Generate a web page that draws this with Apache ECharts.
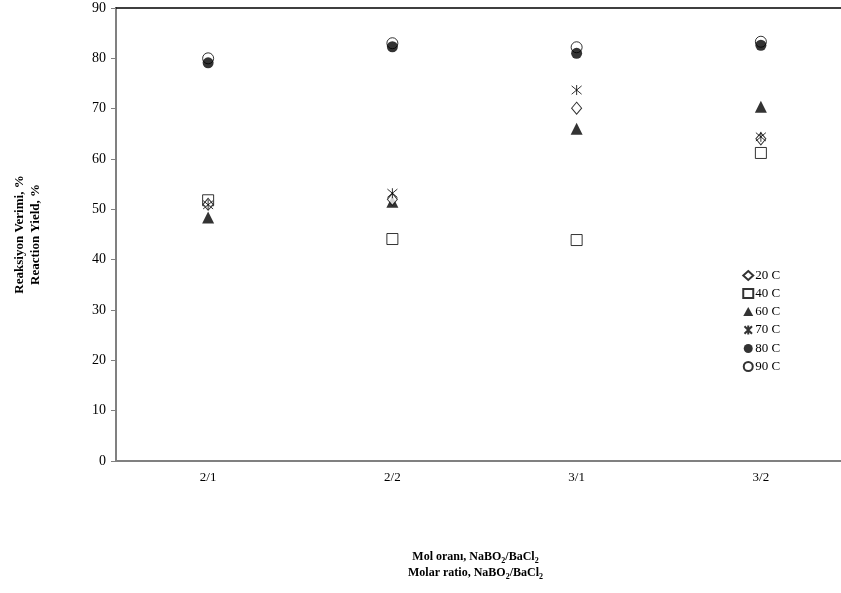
<!DOCTYPE html>
<html><head><meta charset="utf-8">
<script src="https://cdn.jsdelivr.net/npm/echarts@6/dist/echarts.min.js"></script>
<style>html,body{margin:0;padding:0;background:#fff}#c{width:841px;height:593px}</style>
</head><body><div id="c"></div>
<script>
const categories = ['2/1', '2/2', '3/1', '3/2'];
const seriesNames = ['20 C', '40 C', '60 C', '70 C', '80 C', '90 C'];
const s20 = [51, 52, 70.1, 64];
const s40 = [51.8, 44.1, 43.9, 61.2];
const s60 = [48.4, 51.5, 66, 70.4];
const s70 = [50.9, 53.2, 73.7, 64.4];
const s80 = [79.1, 82.3, 81, 82.6];
const s90 = [80, 83, 82.2, 83.3];
const yTicks = [0, 10, 20, 30, 40, 50, 60, 70, 80, 90];

const F = 'Liberation Serif, Times New Roman, serif';
const star = 'path://M0,0L10,10M10,0L0,10M5,-1L5,11';
const hollow = {color: '#fff', borderColor: '#000', borderWidth: 1};
const solid = {color: '#000', borderColor: '#000', borderWidth: 0};
const defs = [
  {d: s20, sym: 'diamond', size: [10, 12], st: hollow},
  {d: s40, sym: 'rect', size: 11, st: hollow},
  {d: s60, sym: 'triangle', size: 12, st: solid},
  {d: s70, sym: star, size: 10, st: {color: 'none', borderColor: '#000', borderWidth: 1}},
  {d: s80, sym: 'circle', size: 11, st: solid},
  {d: s90, sym: 'circle', size: 11, st: hollow}
];
const order = [5, 4, 1, 2, 0, 3];
const series = order.map(i => ({
  name: seriesNames[i], type: 'scatter', data: defs[i].d,
  symbol: defs[i].sym, symbolSize: defs[i].size,
  itemStyle: Object.assign({}, defs[i].st), emphasis: {disabled: true}
}));

const chart = echarts.init(document.getElementById('c'), null, {renderer: 'canvas'});
chart.setOption({
  animation: false,
  backgroundColor: '#fff',
  grid: {left: 116, top: 8, width: 737, height: 453, containLabel: false, outerBoundsMode: 'none'},
  legend: {
    orient: 'vertical', left: 737, top: 264, itemGap: 5, itemWidth: 10, itemHeight: 9,
    data: seriesNames,
    textStyle: {fontFamily: F, fontSize: 13, color: '#000', padding: [0, 0, 0, -3]}
  },
  xAxis: [{
    type: 'category', data: categories, boundaryGap: true,
    axisLine: {lineStyle: {color: '#808080', width: 2}},
    axisTick: {alignWithLabel: true, length: 4, lineStyle: {color: '#808080'}},
    axisLabel: {fontFamily: F, fontSize: 13, color: '#000', margin: 10},
    name: '{b|Mol oranı, NaBO}{s|2}{b|/BaCl}{s|2}\n{b|Molar ratio, NaBO}{s|2}{b|/BaCl}{s|2}',
    nameLocation: 'middle', nameGap: 88,
    nameTextStyle: {
      padding: [0, 18, 0, 0],
      rich: {
        b: {fontFamily: F, fontSize: 12, fontWeight: 'bold', color: '#000', lineHeight: 16},
        s: {fontFamily: F, fontSize: 8, fontWeight: 'bold', color: '#000', verticalAlign: 'bottom', padding: [6, 0, 0, 0], lineHeight: 16}
      }
    }
  }, {
    type: 'category', data: categories, position: 'top',
    axisLine: {lineStyle: {color: '#000', width: 1.5}},
    axisTick: {show: false}, axisLabel: {show: false}
  }],
  yAxis: {
    type: 'value', min: 0, max: 90, interval: 10,
    splitLine: {show: false},
    axisLine: {show: true, lineStyle: {color: '#808080', width: 2}},
    axisTick: {show: true, length: 5, lineStyle: {color: '#808080'}},
    axisLabel: {fontFamily: F, fontSize: 14, color: '#000', margin: 10,
      formatter: v => yTicks.includes(v) ? String(v) : ''},
    name: 'Reaksiyon Verimi, %\nReaction Yield, %',
    nameLocation: 'middle', nameGap: 72, nameRotate: 90,
    nameTextStyle: {fontFamily: F, fontSize: 13, fontWeight: 'bold', color: '#000', lineHeight: 16}
  },
  series: series
});
</script></body></html>
